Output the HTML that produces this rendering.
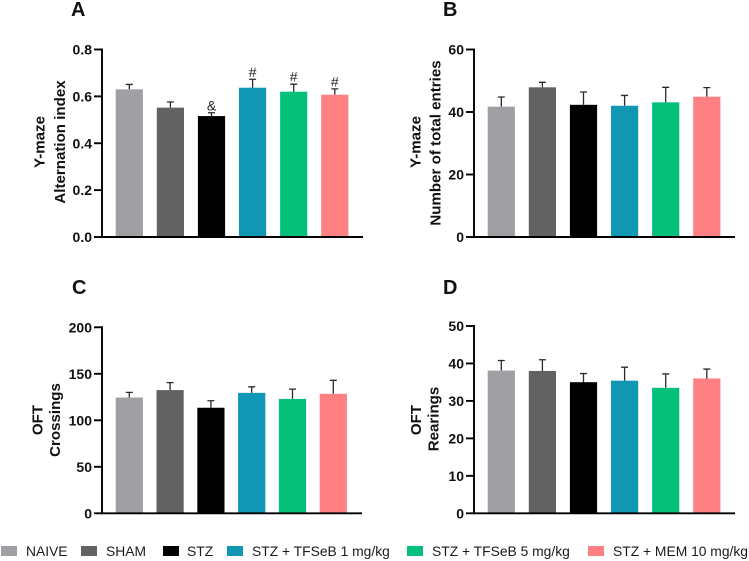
<!DOCTYPE html>
<html lang="en">
<head>
<meta charset="utf-8">
<title>Behavioural test bar charts</title>
<style>
html,body{margin:0;padding:0;background:#fff;width:749px;height:561px;overflow:hidden}
svg{display:block;font-family:"Liberation Sans",sans-serif}
.tick-label{font-size:14px;font-weight:bold;fill:#111;text-anchor:end}
.axis-title{font-size:15.1px;font-weight:bold;fill:#111;text-anchor:middle}
.panel-letter{font-size:20px;font-weight:bold;fill:#111}
.legend-text{font-size:13.85px;fill:#1a1a1a}
.note{font-size:14px;fill:#222;text-anchor:middle}
.axis{stroke:#000;stroke-width:1.9;fill:none}
.err{stroke:#2a2a2a;stroke-width:1.3;fill:none}
.s0{fill:#a0a0a4}.s1{fill:#626262}.s2{fill:#000}.s3{fill:#1097b3}.s4{fill:#05c07a}.s5{fill:#ff8082}
</style>
</head>
<body>
<svg id="figure" xmlns="http://www.w3.org/2000/svg" width="749" height="561" viewBox="0 0 749 561">
  <text class="panel-letter" x="71" y="16">A</text>
  <text class="panel-letter" x="443" y="16">B</text>
  <text class="panel-letter" x="72" y="294">C</text>
  <text class="panel-letter" x="443" y="294">D</text>

  <text class="axis-title" transform="translate(44.7,142) rotate(-90)">Y-maze</text>
  <text class="axis-title" transform="translate(65,142) rotate(-90)">Alternation index</text>
  <text class="axis-title" transform="translate(420.5,142) rotate(-90)">Y-maze</text>
  <text class="axis-title" transform="translate(440.7,143) rotate(-90)">Number of total entries</text>
  <text class="axis-title" transform="translate(42.7,420) rotate(-90)">OFT</text>
  <text class="axis-title" transform="translate(60,420) rotate(-90)">Crossings</text>
  <text class="axis-title" transform="translate(421,420) rotate(-90)">OFT</text>
  <text class="axis-title" transform="translate(438.7,419) rotate(-90)">Rearings</text>

  <g id="panels"></g>

  <g>
    <rect class="s0" x="1" y="546" width="16" height="10"/>
    <text class="legend-text" x="26" y="556">NAIVE</text>
    <rect class="s1" x="81" y="546" width="16" height="10"/>
    <text class="legend-text" x="106" y="556">SHAM</text>
    <rect class="s2" x="163" y="546" width="16" height="10"/>
    <text class="legend-text" x="187" y="556">STZ</text>
    <rect class="s3" x="227" y="546" width="16" height="10"/>
    <text class="legend-text" x="252" y="556">STZ + TFSeB 1 mg/kg</text>
    <rect class="s4" x="407" y="546" width="16" height="10"/>
    <text class="legend-text" x="432" y="556">STZ + TFSeB 5 mg/kg</text>
    <rect class="s5" x="588" y="546" width="16" height="10"/>
    <text class="legend-text" x="613" y="556">STZ + MEM 10 mg/kg</text>
  </g>
</svg>
<script>
const categories = ['NAIVE', 'SHAM', 'STZ', 'STZ + TFSeB 1 mg/kg', 'STZ + TFSeB 5 mg/kg', 'STZ + MEM 10 mg/kg'];

const valuesA = [0.63, 0.552, 0.516, 0.637, 0.62, 0.607];
const errorsA = [0.021, 0.024, 0.014, 0.036, 0.032, 0.025];
const notesA = ['', '', '&', '#', '#', '#'];
const ticksA = [0, 0.2, 0.4, 0.6, 0.8];
const tickLabelsA = ['0.0', '0.2', '0.4', '0.6', '0.8'];

const valuesB = [41.7, 47.9, 42.3, 42, 43.1, 44.9];
const errorsB = [3.1, 1.6, 4.1, 3.3, 4.8, 2.9];
const ticksB = [0, 20, 40, 60];
const tickLabelsB = ['0', '20', '40', '60'];

const valuesC = [124.5, 132.5, 113.5, 129.5, 123, 128.5];
const errorsC = [5.5, 8, 7.5, 6.5, 10.5, 14.5];
const ticksC = [0, 50, 100, 150, 200];
const tickLabelsC = ['0', '50', '100', '150', '200'];

const valuesD = [38.1, 38, 35, 35.4, 33.5, 36];
const errorsD = [2.7, 3, 2.3, 3.6, 3.7, 2.5];
const ticksD = [0, 10, 20, 30, 40, 50];
const tickLabelsD = ['0', '10', '20', '30', '40', '50'];

const NS = 'http://www.w3.org/2000/svg';
const root = document.getElementById('panels');

function make(parent, tag, attrs) {
  const el = document.createElementNS(NS, tag);
  for (const k in attrs) el.setAttribute(k, attrs[k]);
  parent.appendChild(el);
  return el;
}

function drawPanel(id, box, values, errors, ticks, tickLabels, notes) {
  const g = make(root, 'g', {});
  
  

  const yMax = ticks[ticks.length - 1];
  const yScale = v => box.y0 - (v / yMax) * (box.y0 - box.yTop);
  const xLeft = i => box.firstBar + i * box.step;

  values.forEach((v, i) => {
    const top = yScale(v);
    const cx = xLeft(i) + box.barW / 2;

    const err = make(g, 'path', {
      class: 'err',
      d: 'M' + cx + ' ' + top + 'V' + yScale(v + errors[i]) + 'm-3.5 0h7'
    });
    
    

    const bar = make(g, 'rect', {
      class: 's' + i,
      x: xLeft(i),
      y: top,
      width: box.barW,
      height: box.y0 - top
    });
    
    
    make(bar, 'title', {}).textContent = categories[i];

    if (notes && notes[i]) {
      const note = make(g, 'text', {
        class: 'note',
        x: cx,
        y: yScale(v + errors[i]) - 2.5
      });
      
      
      note.textContent = notes[i];
    }
  });

  const xAxis = make(g, 'line', {
    class: 'axis',
    x1: box.x0,
    x2: box.xEnd,
    y1: box.y0,
    y2: box.y0
  });
  
  

  const yAxis = make(g, 'line', {
    class: 'axis',
    x1: box.x0,
    x2: box.x0,
    y1: box.yTop - 1,
    y2: box.y0 + 1
  });
  
  

  ticks.forEach((t, i) => {
    const y = yScale(t);
    const mark = make(g, 'line', {
      class: 'axis',
      x1: box.x0 - 8,
      x2: box.x0,
      y1: y,
      y2: y
    });
    
    

    const label = make(g, 'text', {
      class: 'tick-label',
      x: box.x0 - 10,
      y: y + 5
    });
    
    
    label.textContent = tickLabels[i];
  });
}

drawPanel('a', {x0: 102, xEnd: 363, y0: 237, yTop: 49.5, firstBar: 115.7, step: 41.1, barW: 27.2}, valuesA, errorsA, ticksA, tickLabelsA, notesA);
drawPanel('b', {x0: 474, xEnd: 735, y0: 237, yTop: 49.5, firstBar: 487.7, step: 41.1, barW: 27.2}, valuesB, errorsB, ticksB, tickLabelsB, null);
drawPanel('c', {x0: 102, xEnd: 362, y0: 513.3, yTop: 327.3, firstBar: 115.7, step: 40.8, barW: 27.2}, valuesC, errorsC, ticksC, tickLabelsC, null);
drawPanel('d', {x0: 474, xEnd: 735, y0: 513.3, yTop: 326, firstBar: 487.7, step: 41.1, barW: 27.2}, valuesD, errorsD, ticksD, tickLabelsD, null);
</script>
</body>
</html>
